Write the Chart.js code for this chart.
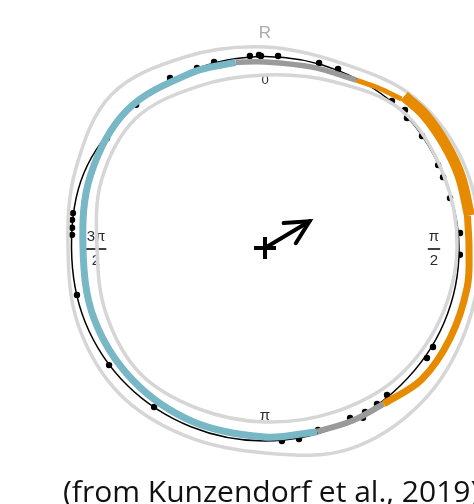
<!DOCTYPE html>
<html>
<head>
<meta charset="utf-8">
<script src="https://cdn.jsdelivr.net/npm/chart.js@4/dist/chart.umd.min.js"></script>
<style>
html,body{margin:0;padding:0;background:#fff;}
#wrap{position:relative;width:474px;height:504px;overflow:hidden;}
#c{position:absolute;left:0;top:0;}
#caption{position:absolute;left:63px;top:470px;font-family:'Open Sans';font-size:30px;line-height:normal;color:#111;white-space:nowrap;}
</style>
</head>
<body>
<div id="wrap">
<canvas id="c" width="474" height="504"></canvas>
<div id="caption">(from Kunzendorf et al., 2019)</div>
</div>
<script>
// ---- data (angles in degrees, clockwise from top; radii in plot units) ----
const gridAngles = [0, 22.5, 45, 67.5, 90, 112.5, 135, 157.5, 180, 202.5, 225, 247.5, 270, 292.5, 315, 337.5];
const outerRingR = [201, 200, 212, 216, 215, 217, 220, 218, 205, 204, 206, 202, 197, 205, 217, 207];
const innerRingR = [173, 180, 194, 193, 192, 189, 185, 178, 174, 174, 177, 172, 168, 177, 183, 175];
const fitLineR   = [191.5, 192, 193.5, 192.5, 194, 194, 193, 193, 193, 193.5, 194.5, 194.5, 193.5, 196, 193, 192];

const grayTopA = [351, 0, 15, 28.5];
const grayTopR = [188, 186, 187, 191];
const orangeThinA = [28.5, 35, 42.5];
const orangeThinR = [191, 196, 202];
const orangeThickA = [42.5, 50, 60, 70, 81];
const orangeThickR = [206, 208, 208, 208, 207];
const orangeA = [81, 90, 101, 116, 130, 142.7];
const orangeR = [205, 204, 206, 206, 204.5, 196];
const grayBottomA = [142.7, 153, 164.2];
const grayBottomR = [196, 193.5, 191];
const blueA = [164.2, 180, 202.5, 225, 247.5, 270, 292.5, 315, 337.5, 351];
const blueR = [191, 189, 188, 187, 185, 182, 189, 195, 190, 188];

const dotA = [339.3, 344.7, 355.5, 358.2, 358.8, 3.9, 16.3, 22.2, 330.8, 318, 304.8, 280.3, 278.3, 276, 273.9, 256, 233.1, 214.9, 175, 169.9, 163.8, 153.4, 150, 148.6, 144.3, 140.3, 124.2, 120.5, 92, 85.6, 74.9, 68.3, 64.4, 54.5, 47.5, 45.4, 40.8];
const dotR = [192.4, 192.9, 192.6, 193.1, 192, 192.4, 192.7, 193.3, 194.7, 192.6, 192.5, 195.2, 195, 194, 193.4, 193.8, 195, 193.9, 193.7, 194, 189.6, 190, 196, 192, 192, 191, 195.8, 195, 195, 195.6, 191.6, 191.6, 191.9, 192.9, 192.5, 196.6, 194.3];

const meanAngle = 59;
const meanLength = 52;

const axisLabels = ['0', 'π/2', 'π', '3π/2'];
const axisLabelAngles = [0, 90, 180, 270];
const radiusLabel = 'R';

// ---- helpers ----
function pol(a, r) {
  const t = a * Math.PI / 180;
  return { x: r * Math.sin(t), y: r * Math.cos(t) };
}
function arc(angles, radii) {
  return angles.map((a, i) => pol(a, radii[i]));
}
function closedLoop(angles, radii, color, width, order) {
  const pts = arc(angles, radii);
  const n = pts.length;
  const data = [pts[n - 1], ...pts, pts[0], pts[1]];
  return {
    data, showLine: true, pointRadius: 0, pointHoverRadius: 0,
    borderColor: color, borderWidth: width, tension: 0.35, fill: false, order,
    segment: {
      borderColor: ctx => (ctx.p0DataIndex === 0 || ctx.p0DataIndex === n + 1) ? 'rgba(0,0,0,0)' : color
    }
  };
}
function openArc(angles, radii, color, width, order) {
  return {
    data: arc(angles, radii), showLine: true, pointRadius: 0, pointHoverRadius: 0,
    borderColor: color, borderWidth: width, tension: 0.35, fill: false, order,
    borderCapStyle: 'butt'
  };
}

const tip = pol(meanAngle, meanLength);
const headLen = 26, headAng = 27;
const back = meanAngle + 180;
const arm1 = { x: tip.x + pol(back - headAng, headLen).x, y: tip.y + pol(back - headAng, headLen).y };
const arm2 = { x: tip.x + pol(back + headAng, headLen).x, y: tip.y + pol(back + headAng, headLen).y };

const BLUE = '#78B7C5', ORANGE = '#E68A00', GRAY = '#9a9a9a', RING = '#d6d6d6';

const datasets = [
  { data: [pol(meanAngle, 0), tip], showLine: true, pointRadius: 0, borderColor: '#000', borderWidth: 4, borderCapStyle: 'round', order: 0 },
  { data: [arm1, tip, arm2], showLine: true, pointRadius: 0, borderColor: '#000', borderWidth: 4, borderCapStyle: 'round', borderJoinStyle: 'miter', order: 0 },
  { data: [{ x: 0, y: 0 }], pointStyle: 'cross', pointRadius: 11, borderWidth: 4, borderColor: '#000', order: 0 },
  openArc(grayTopA, grayTopR, GRAY, 5.5, 1),
  openArc(orangeThinA, orangeThinR, ORANGE, 5, 1),
  openArc(orangeThickA, orangeThickR, ORANGE, 11, 1),
  openArc(orangeA, orangeR, ORANGE, 7, 1),
  openArc(grayBottomA, grayBottomR, GRAY, 6, 1),
  openArc(blueA, blueR, BLUE, 7, 1),
  closedLoop(gridAngles, outerRingR, RING, 3.5, 2),
  closedLoop(gridAngles, innerRingR, RING, 3.5, 2),
  { data: arc(dotA, dotR), pointRadius: 3.2, backgroundColor: '#000', borderWidth: 0, order: 3 },
  closedLoop(gridAngles, fitLineR, '#000', 1.5, 4)
];

const labelPlugin = {
  id: 'polarLabels',
  beforeDatasetsDraw(chart) {
    const { ctx } = chart;
    const sx = chart.scales.x, sy = chart.scales.y;
    const px = (a, r) => { const p = pol(a, r); return [sx.getPixelForValue(p.x), sy.getPixelForValue(p.y)]; };
    ctx.save();
    ctx.textAlign = 'center';
    ctx.textBaseline = 'middle';
    let [rx, ry] = px(0, 215);
    ctx.fillStyle = '#aaaaaa';
    ctx.font = '17px "Liberation Sans"';
    ctx.fillText(radiusLabel, rx, ry);
    ctx.fillStyle = '#2b2b36';
    axisLabels.forEach((lab, i) => {
      const rr = axisLabelAngles[i] % 180 === 0 ? 168 : 169;
      const [x, y] = px(axisLabelAngles[i], rr);
      if (lab.includes('/')) {
        const [num, den] = lab.split('/');
        ctx.font = '15px "Liberation Sans"';
        const w = ctx.measureText(num).width + 2;
        ctx.fillText(num, x, y - 11);
        ctx.fillText(den, x, y + 13);
        ctx.strokeStyle = '#111';
        ctx.lineWidth = 1.6;
        ctx.beginPath();
        ctx.moveTo(x - w / 2, y + 1);
        ctx.lineTo(x + w / 2, y + 1);
        ctx.stroke();
      } else {
        ctx.font = (lab === '0' ? '13px' : '15px') + ' "Liberation Sans"';
        ctx.fillText(lab, x, y);
      }
    });
    ctx.restore();
  }
};

new Chart(document.getElementById('c'), {
  type: 'scatter',
  data: { datasets },
  options: {
    responsive: false,
    animation: false,
    events: [],
    layout: { padding: 0, autoPadding: false },
    elements: { line: { capBezierPoints: false } },
    plugins: { legend: { display: false }, tooltip: { enabled: false }, title: { display: false } },
    scales: {
      x: { type: 'linear', min: -265, max: 209, display: false },
      y: { type: 'linear', min: -256, max: 248, display: false }
    }
  },
  plugins: [labelPlugin]
});
</script>
</body>
</html>
